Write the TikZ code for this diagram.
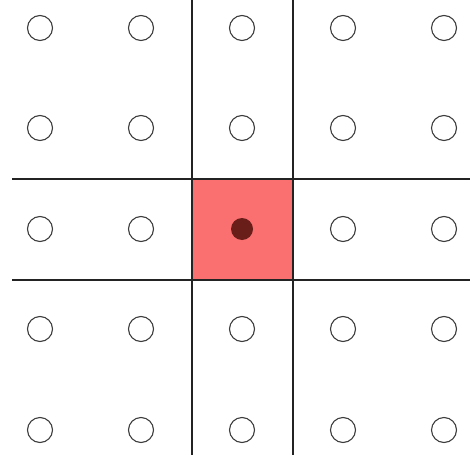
\documentclass[tikz,border=0pt]{standalone}
\usepackage{tikz}
\definecolor{zelle}{RGB}{250,112,112}
\definecolor{kernrot}{RGB}{105,30,25}
\definecolor{gitter}{RGB}{35,35,35}
\definecolor{kreis}{RGB}{60,60,60}

\begin{document}
\begin{tikzpicture}[x=1pt, y=-1pt,
		punkt/.style={circle, draw=kreis, line width=1.1pt, fill=white, minimum size=25pt, inner sep=0pt},
		kern/.style={circle, fill=kernrot, minimum size=22pt, inner sep=0pt},
		linie/.style={draw=gitter, line width=1.4pt}]
		
		\useasboundingbox (0,0) rectangle (470,457);
		
		% --- AKTIVE ZELLE ---
		\fill[zelle] (192,179) rectangle (293,280);
		
		% --- GITTERLINIEN ---
		\draw[linie] (192,0) -- (192,455);
		\draw[linie] (293,0) -- (293,455);
		\draw[linie] (12,179) -- (470,179);
		\draw[linie] (12,280) -- (470,280);
		
		% --- PUNKTE ---
		\foreach \i/\x in {1/40, 2/141, 3/242, 4/343, 5/444}{
			\foreach \j/\y in {1/28, 2/128, 3/229, 4/329, 5/430}{
				\ifnum\numexpr\i*10+\j\relax=33 \else
				\node[punkt] (p\i\j) at (\x,\y) {};
				\fi
			}
		}
		\node[kern] (mitte) at (242,229) {};
		
	\end{tikzpicture}
\end{document}
